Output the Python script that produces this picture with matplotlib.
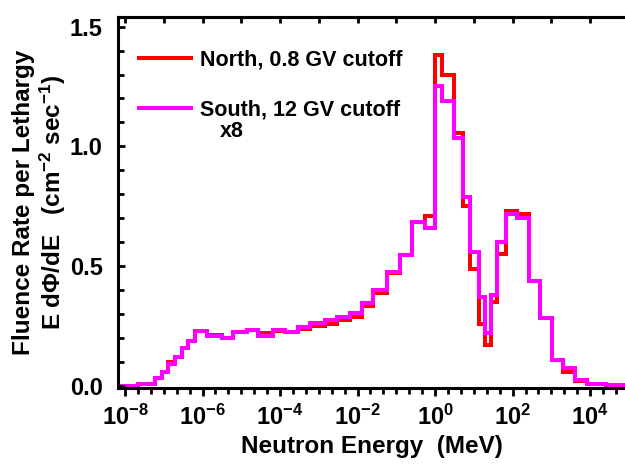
import numpy as np
import matplotlib
matplotlib.use("Agg")
import matplotlib.pyplot as plt
from matplotlib.ticker import FixedLocator, MultipleLocator, LogFormatterMathtext, NullFormatter
from matplotlib.lines import Line2D

# bin edges, log10(E / MeV)
log_edges = [-8.18, -7.66, -7.23, -7.05, -6.89, -6.71, -6.53, -6.37, -6.19, -5.88,
             -5.50, -5.21, -4.85, -4.57, -4.18, -3.87, -3.54, -3.23, -2.84, -2.53,
             -2.19, -1.88, -1.60, -1.24, -0.90, -0.59, -0.26, 0.00, 0.18, 0.49,
             0.72, 0.90, 1.14, 1.29, 1.45, 1.60, 1.83, 2.12, 2.43, 2.71,
             3.02, 3.30, 3.61, 3.92, 4.41, 4.90]

north = [0.0, 0.007, 0.033, 0.06, 0.10, 0.12, 0.16, 0.19, 0.23,
         0.215, 0.20, 0.225, 0.233, 0.22, 0.23, 0.225, 0.24, 0.25, 0.26, 0.275,
         0.29, 0.335, 0.39, 0.47, 0.546, 0.683, 0.71, 1.38, 1.30, 1.054,
         0.75, 0.49, 0.26, 0.17, 0.35, 0.55, 0.73, 0.72, 0.44, 0.285,
         0.11, 0.06, 0.02, 0.008, 0.0]

south = [0.0, 0.007, 0.033, 0.06, 0.09, 0.12, 0.16, 0.19, 0.23,
         0.21, 0.20, 0.225, 0.233, 0.21, 0.235, 0.225, 0.246, 0.262, 0.275, 0.29,
         0.305, 0.345, 0.40, 0.475, 0.546, 0.683, 0.66, 1.25, 1.19, 1.035,
         0.79, 0.56, 0.37, 0.22, 0.38, 0.60, 0.72, 0.70, 0.44, 0.285,
         0.11, 0.075, 0.025, 0.008, 0.004]

x_tick_exps = [-8, -6, -4, -2, 0, 2, 4]
y_ticks = [0.0, 0.5, 1.0, 1.5]

edges = 10.0 ** np.array(log_edges)

main_font = 'Liberation Sans'
plt.rcParams['font.family'] = [main_font, 'DejaVu Sans']
plt.rcParams['font.weight'] = 'bold'
plt.rcParams['mathtext.fontset'] = 'custom'
plt.rcParams['mathtext.rm'] = f'{main_font}:bold'
plt.rcParams['mathtext.it'] = f'{main_font}:bold'
plt.rcParams['mathtext.bf'] = f'{main_font}:bold'
plt.rcParams['mathtext.sf'] = f'{main_font}:bold'

fig = plt.figure(figsize=(6.25, 4.68), dpi=100)
ax = fig.add_axes([0.1888, 0.171, 0.8112, 0.7927])

ax.stairs(north, edges, color='#ff0000', lw=2.9, baseline=None)
ax.stairs(south, edges, color='#ff00ff', lw=2.9, baseline=None)

ax.set_xscale('log')
ax.set_xlim(edges[0], edges[-1])
ax.set_ylim(-0.008, 1.54)

ax.xaxis.set_major_locator(FixedLocator([10.0 ** e for e in x_tick_exps]))
ax.xaxis.set_major_formatter(LogFormatterMathtext())
minor = [10.0 ** (k / 3.0) for k in range(-27, 16)]
ax.xaxis.set_minor_locator(FixedLocator(minor))
ax.xaxis.set_minor_formatter(NullFormatter())

ax.yaxis.set_major_locator(FixedLocator(y_ticks))
ax.yaxis.set_minor_locator(MultipleLocator(0.1))
ax.set_yticklabels([f"{v:.1f}" for v in y_ticks])

for side in ['left', 'bottom', 'top']:
    ax.spines[side].set_linewidth(2.2)
ax.spines['right'].set_visible(False)

ax.tick_params(axis='x', which='major', direction='out', length=6, width=2, labelsize=17, pad=6, top=False)
ax.tick_params(axis='x', which='minor', direction='out', length=4, width=2, top=False)
ax.tick_params(axis='y', which='major', direction='in', length=5, width=2, labelsize=17, pad=11)
ax.tick_params(axis='y', which='minor', direction='in', length=4, width=2)

sec = ax.secondary_xaxis('top')
sec.set_xscale('log')
sec.xaxis.set_major_locator(FixedLocator([10.0 ** k for k in range(-8, 5)]))
sec.xaxis.set_minor_locator(FixedLocator([]))
sec.tick_params(axis='x', which='major', direction='in', length=4, width=2, labelsize=0, labeltop=False)
sec.spines['top'].set_linewidth(2.2)

ax.set_xlabel('Neutron Energy  (MeV)', fontsize=17.5, fontweight='bold', labelpad=4)
ax.set_ylabel('Fluence Rate per Lethargy\nE d\u03a6/dE   (cm$^{-2}$ sec$^{-1}$)',
              fontsize=17.5, fontweight='bold', linespacing=1.12, labelpad=1)

handles = [Line2D([], [], color='#ff0000', lw=2.9),
           Line2D([], [], color='#ff00ff', lw=2.9)]
leg = ax.legend(handles, ['North, 0.8 GV cutoff', 'South, 12 GV cutoff'],
                loc='upper left', frameon=False, fontsize=15.5,
                handlelength=2.4, handletextpad=0.4, labelspacing=1.35,
                borderaxespad=0.0, bbox_to_anchor=(0.025, 0.935))
ax.text(0.2, 0.69, 'x8', transform=ax.transAxes, fontsize=15.5, fontweight='bold',
        ha='left', va='center')

fig.savefig('out.png', dpi=100)
